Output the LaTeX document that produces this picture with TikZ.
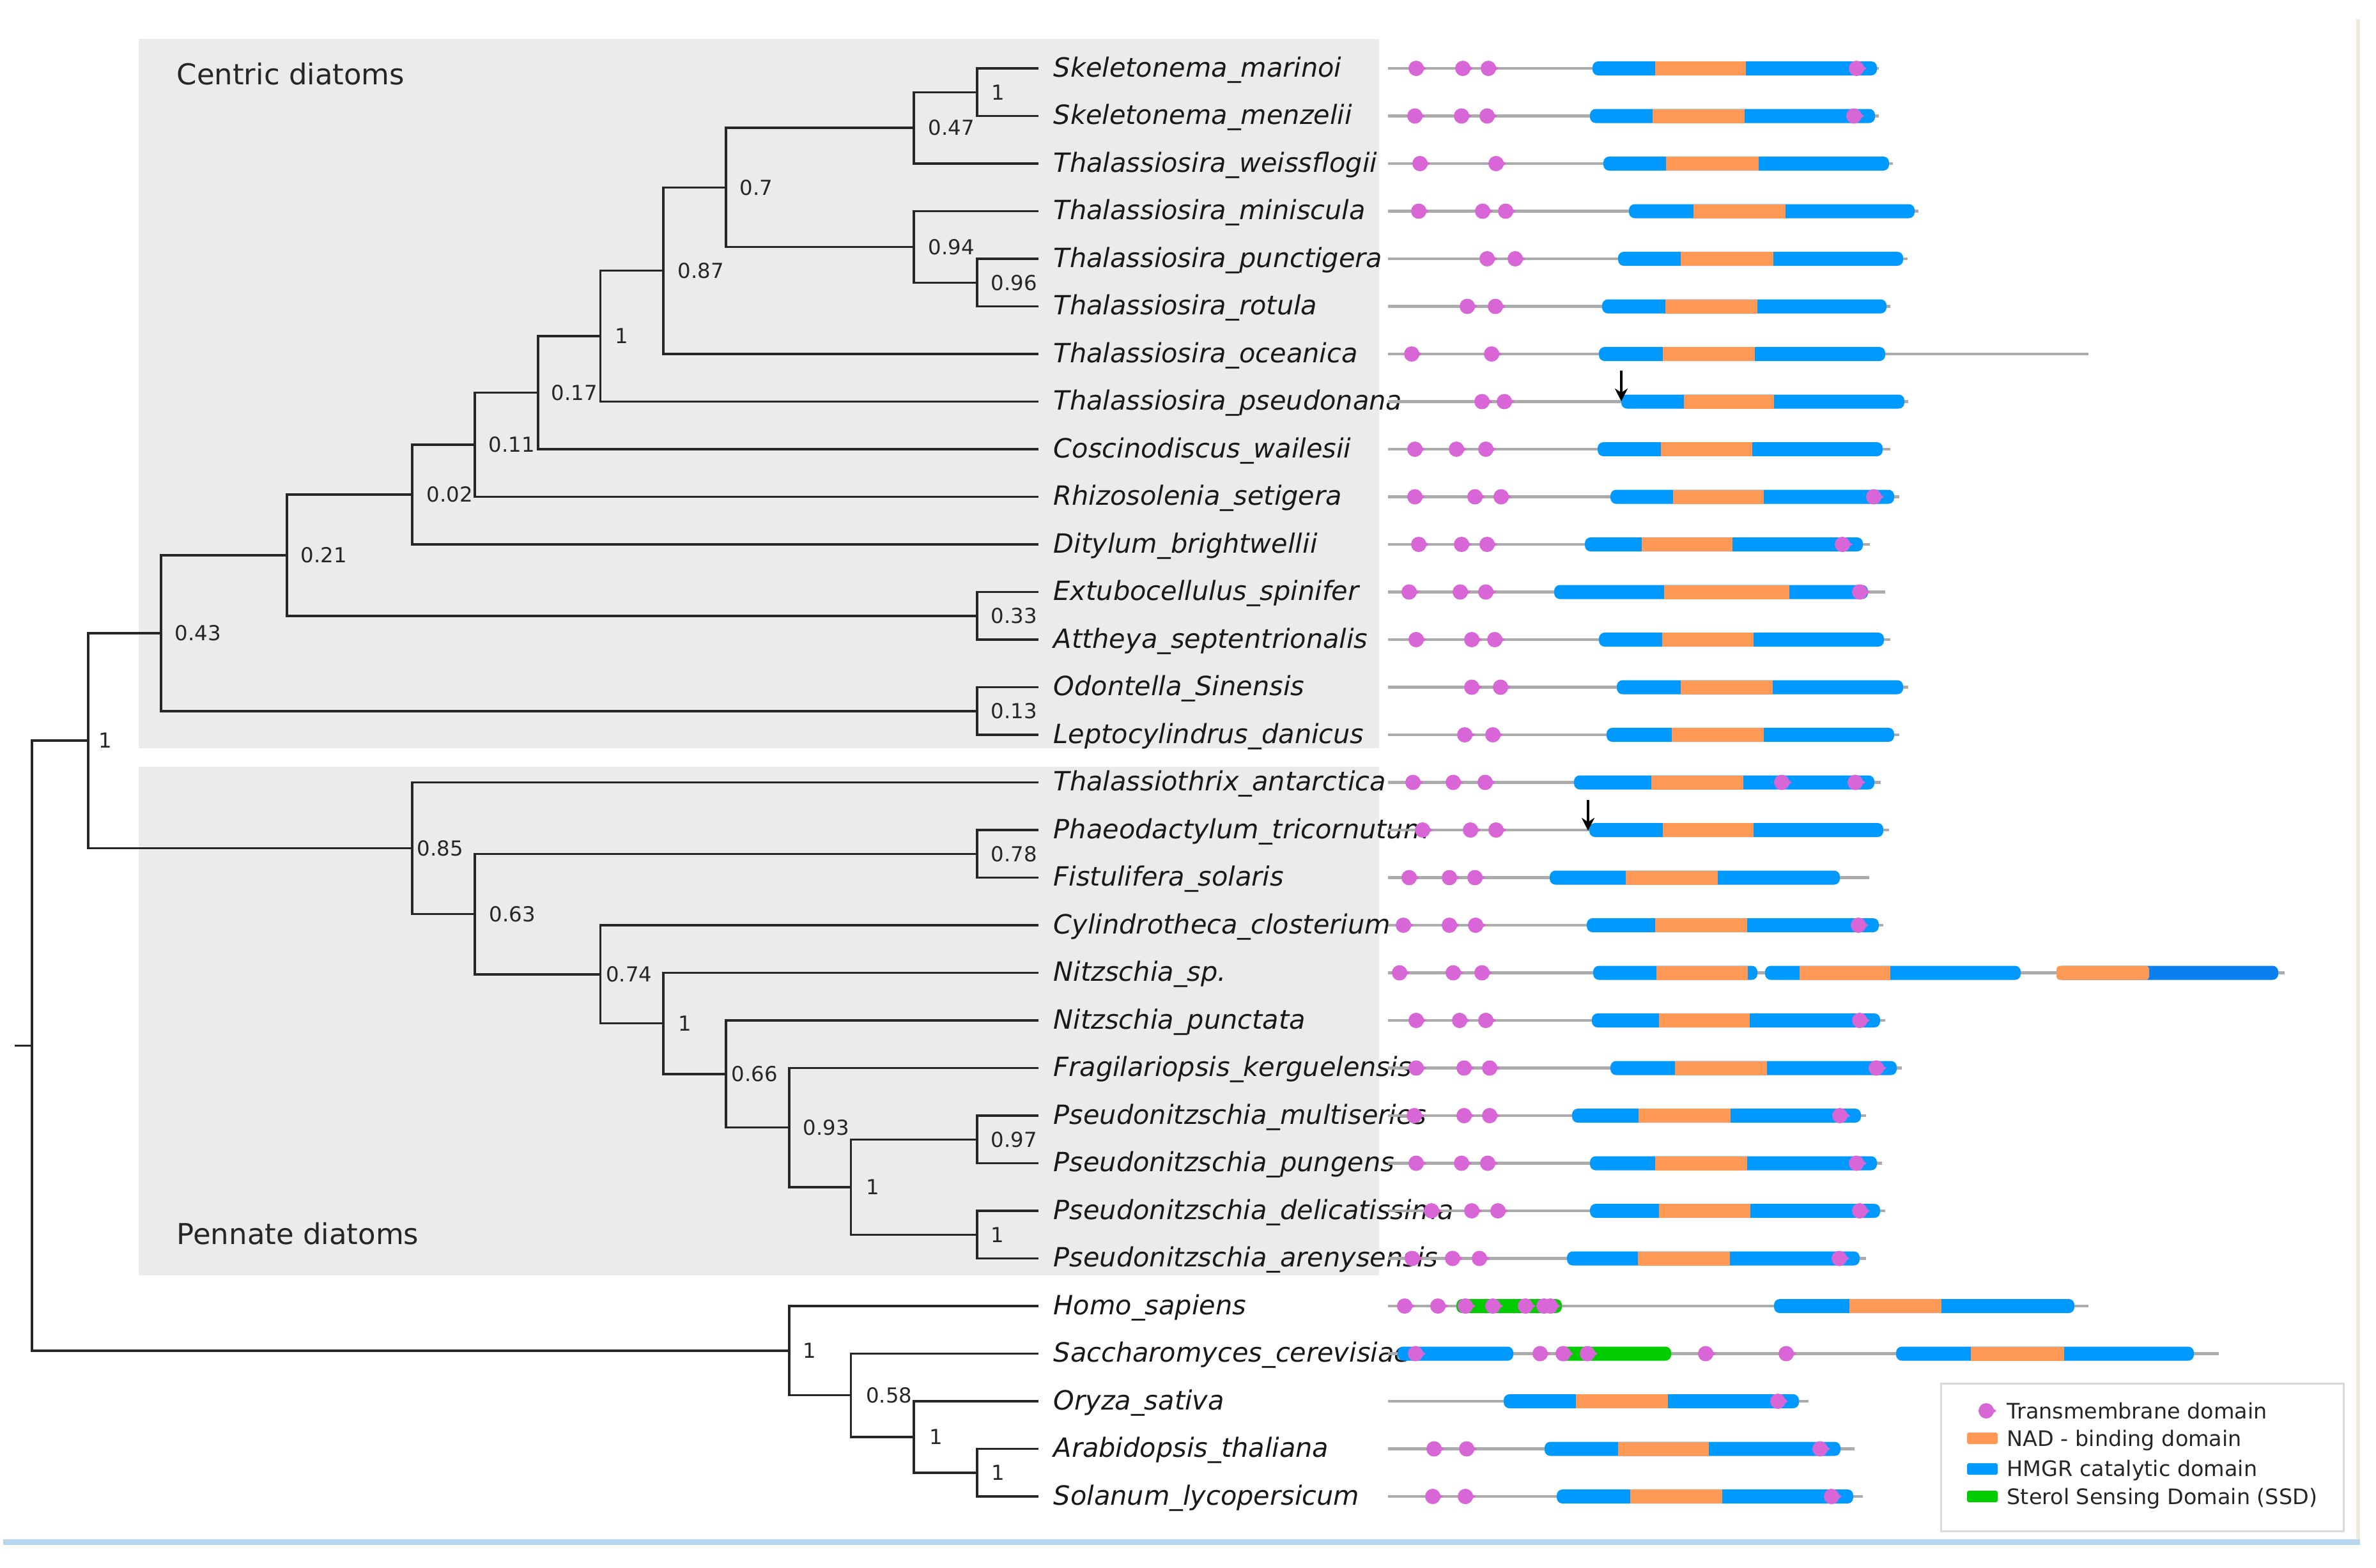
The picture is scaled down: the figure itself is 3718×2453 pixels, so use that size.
\documentclass[tikz,border=0pt]{standalone}
\usepackage{fontspec}
\setmainfont{DejaVu Sans}
\usepackage{tikz}
\usetikzlibrary{arrows.meta,positioning}

\definecolor{cladegray}{HTML}{EBEBEB}
\definecolor{hmgrblue}{HTML}{0099FF}
\definecolor{hmgrdark}{HTML}{0A80EE}
\definecolor{nadorange}{HTML}{FF9955}
\definecolor{ssdgreen}{HTML}{00CC00}
\definecolor{tmpink}{HTML}{D966D6}
\definecolor{framebeige}{HTML}{EEEAD8}
\definecolor{frameblue}{HTML}{B8D5EE}

\tikzset{
  branch/.style={line width=0.035cm, black!85},
  leaf/.style={anchor=west, inner xsep=0.23cm, inner ysep=0pt, text height=0.32cm, text depth=0.06cm,
    text=black!90, font=\fontsize{11.8}{14}\selectfont\itshape},
  supp/.style={inner sep=0pt, text=black!85, font=\fontsize{9.2}{11}\selectfont},
  cladename/.style={anchor=west, inner sep=0pt, text=black!85, font=\fontsize{12.8}{15}\selectfont},
  legtext/.style={anchor=base west, inner sep=0pt, text=black!85, font=\fontsize{9.5}{11}\selectfont},
  backbone/.style={line width=0.045cm, black!33},
  cut/.style={line width=0.035cm, -{Stealth[length=0.2cm, width=0.2cm]}}
}

% transmembrane marker
\newcommand{\tmark}[2]{\fill[tmpink] (#1-2,#2) circle[radius=0.12cm];
  \fill[tmpink] (#1-2,#2-11) -- (#1+14,#2) -- (#1-2,#2+11) -- cycle;}
\newcommand{\tmrow}[2]{\foreach \tmx in {#2}{\tmark{\tmx}{#1}}}
% protein: y, end, hmgr from/to, nad from/to
\newcommand{\prot}[6]{%
  \draw[backbone] (2172,#1) -- (#2,#1);
  \fill[hmgrblue, rounded corners=0.09cm] (#3,#1-11) rectangle (#4,#1+11);
  \fill[nadorange] (#5,#1-11) rectangle (#6,#1+11);}

\begin{document}
\begin{tikzpicture}[x=0.01cm, y=-0.01cm]
\useasboundingbox (0,0) rectangle (3718,2453);

% clade boxes
\fill[cladegray] (217,61) rectangle (2158,1171);
\fill[cladegray] (217,1200) rectangle (2158,1996);
\node[cladename] (centric) at (276,116) {Centric diatoms};
\node[cladename] (pennate) at (276,1931) {Pennate diatoms};

% leaves
\node[leaf] (skmar) at (1625,107) {Skeletonema\_marinoi};
\node[leaf] (skmen) at (1625,181.5) {Skeletonema\_menzelii};
\node[leaf] (thwei) at (1625,256) {Thalassiosira\_weissflogii};
\node[leaf] (thmin) at (1625,330.5) {Thalassiosira\_miniscula};
\node[leaf] (thpun) at (1625,405) {Thalassiosira\_punctigera};
\node[leaf] (throt) at (1625,479.5) {Thalassiosira\_rotula};
\node[leaf] (thoce) at (1625,554) {Thalassiosira\_oceanica};
\node[leaf] (thpse) at (1625,628.5) {Thalassiosira\_pseudonana};
\node[leaf] (cowai) at (1625,703) {Coscinodiscus\_wailesii};
\node[leaf] (rhset) at (1625,777.5) {Rhizosolenia\_setigera};
\node[leaf] (dibri) at (1625,852) {Ditylum\_brightwellii};
\node[leaf] (exspi) at (1625,926.5) {Extubocellulus\_spinifer};
\node[leaf] (atsep) at (1625,1001) {Attheya\_septentrionalis};
\node[leaf] (odsin) at (1625,1075.5) {Odontella\_Sinensis};
\node[leaf] (ledan) at (1625,1150) {Leptocylindrus\_danicus};
\node[leaf] (thant) at (1625,1224.5) {Thalassiothrix\_antarctica};
\node[leaf] (phtri) at (1625,1299) {Phaeodactylum\_tricornutum};
\node[leaf] (fisol) at (1625,1373.5) {Fistulifera\_solaris};
\node[leaf] (cyclo) at (1625,1448) {Cylindrotheca\_closterium};
\node[leaf] (nisp) at (1625,1522.5) {Nitzschia\_sp.};
\node[leaf] (nipun) at (1625,1597) {Nitzschia\_punctata};
\node[leaf] (frker) at (1625,1671.5) {Fragilariopsis\_kerguelensis};
\node[leaf] (psmul) at (1625,1746) {Pseudonitzschia\_multiseries};
\node[leaf] (pspun) at (1625,1820.5) {Pseudonitzschia\_pungens};
\node[leaf] (psdel) at (1625,1895) {Pseudonitzschia\_delicatissima};
\node[leaf] (psare) at (1625,1969.5) {Pseudonitzschia\_arenysensis};
\node[leaf] (hosap) at (1625,2044) {Homo\_sapiens};
\node[leaf] (sacer) at (1625,2118.5) {Saccharomyces\_cerevisiae};
\node[leaf] (orsat) at (1625,2193) {Oryza\_sativa};
\node[leaf] (artha) at (1625,2267.5) {Arabidopsis\_thaliana};
\node[leaf] (solyc) at (1625,2342) {Solanum\_lycopersicum};

% inner nodes
\coordinate (stub) at (23,1636.5);
\coordinate (root) at (50,1636.5);
\coordinate (ndia) at (138,1159.15);
\coordinate (n043) at (252,990.8);
\coordinate (n021) at (449,868.9);
\coordinate (n002) at (645,774);
\coordinate (n011) at (743,696);
\coordinate (n017) at (842,614.5);
\coordinate (n1c) at (939.5,526.05);
\coordinate (n087) at (1038,423.6);
\coordinate (n07) at (1136,293.25);
\coordinate (n047) at (1430,200.1);
\coordinate (nskel) at (1529,144.25);
\coordinate (n094) at (1430,386.4);
\coordinate (n096) at (1529,442.25);
\coordinate (n033) at (1529,963.75);
\coordinate (n013) at (1529,1112.75);
\coordinate (n085) at (645,1327.5);
\coordinate (n063) at (743,1430.5);
\coordinate (n078) at (1529,1336.25);
\coordinate (n074) at (939.5,1524.8);
\coordinate (n1n) at (1038,1601.65);
\coordinate (n066) at (1136,1680.8);
\coordinate (n093) at (1235,1764.6);
\coordinate (n1p) at (1331.5,1857.75);
\coordinate (n097) at (1529,1783.25);
\coordinate (n1q) at (1529,1932.25);
\coordinate (n1h) at (1235,2113.85);
\coordinate (n058) at (1331.5,2183.7);
\coordinate (n1o) at (1430,2248.9);
\coordinate (n1s) at (1529,2304.75);

% branches
\draw[branch] (stub) -- (root);
\draw[branch] (ndia) -| (root) |- (n1h);
\draw[branch] (n043) -| (ndia) |- (n085);
\draw[branch] (n021) -| (n043) |- (n013);
\draw[branch] (n002) -| (n021) |- (n033);
\draw[branch] (n011) -| (n002) |- (dibri.west);
\draw[branch] (n017) -| (n011) |- (rhset.west);
\draw[branch] (n1c) -| (n017) |- (cowai.west);
\draw[branch] (n087) -| (n1c) |- (thpse.west);
\draw[branch] (n07) -| (n087) |- (thoce.west);
\draw[branch] (n047) -| (n07) |- (n094);
\draw[branch] (nskel) -| (n047) |- (thwei.west);
\draw[branch] (skmar.west) -| (nskel) |- (skmen.west);
\draw[branch] (thmin.west) -| (n094) |- (n096);
\draw[branch] (thpun.west) -| (n096) |- (throt.west);
\draw[branch] (exspi.west) -| (n033) |- (atsep.west);
\draw[branch] (odsin.west) -| (n013) |- (ledan.west);
\draw[branch] (thant.west) -| (n085) |- (n063);
\draw[branch] (n078) -| (n063) |- (n074);
\draw[branch] (phtri.west) -| (n078) |- (fisol.west);
\draw[branch] (cyclo.west) -| (n074) |- (n1n);
\draw[branch] (nisp.west) -| (n1n) |- (n066);
\draw[branch] (nipun.west) -| (n066) |- (n093);
\draw[branch] (frker.west) -| (n093) |- (n1p);
\draw[branch] (n097) -| (n1p) |- (n1q);
\draw[branch] (psmul.west) -| (n097) |- (pspun.west);
\draw[branch] (psdel.west) -| (n1q) |- (psare.west);
\draw[branch] (hosap.west) -| (n1h) |- (n058);
\draw[branch] (sacer.west) -| (n058) |- (n1o);
\draw[branch] (orsat.west) -| (n1o) |- (n1s);
\draw[branch] (artha.west) -| (n1s) |- (solyc.west);

% support values
\node[supp, right=0.16cm of ndia] (sdia) {1};
\node[supp, right=0.21cm of n043] (s043) {0.43};
\node[supp, right=0.21cm of n021] (s021) {0.21};
\node[supp, right=0.22cm of n002] (s002) {0.02};
\node[supp, right=0.21cm of n011] (s011) {0.11};
\node[supp, right=0.20cm of n017] (s017) {0.17};
\node[supp, right=0.22cm of n1c] (s1c) {1};
\node[supp, right=0.22cm of n087] (s087) {0.87};
\node[supp, right=0.21cm of n07] (s07) {0.7};
\node[supp, right=0.22cm of n047] (s047) {0.47};
\node[supp, right=0.22cm of nskel] (sskel) {1};
\node[supp, right=0.22cm of n094] (s094) {0.94};
\node[supp, right=0.21cm of n096] (s096) {0.96};
\node[supp, right=0.21cm of n033] (s033) {0.33};
\node[supp, right=0.21cm of n013] (s013) {0.13};
\node[supp, right=0.07cm of n085] (s085) {0.85};
\node[supp, right=0.22cm of n063] (s063) {0.63};
\node[supp, right=0.21cm of n078] (s078) {0.78};
\node[supp, right=0.08cm of n074] (s074) {0.74};
\node[supp, right=0.23cm of n1n] (s1n) {1};
\node[supp, right=0.08cm of n066] (s066) {0.66};
\node[supp, right=0.21cm of n093] (s093) {0.93};
\node[supp, right=0.23cm of n1p] (s1p) {1};
\node[supp, right=0.21cm of n097] (s097) {0.97};
\node[supp, right=0.21cm of n1q] (s1q) {1};
\node[supp, right=0.21cm of n1h] (s1h) {1};
\node[supp, right=0.23cm of n058] (s058) {0.58};
\node[supp, right=0.24cm of n1o] (s1o) {1};
\node[supp, right=0.22cm of n1s] (s1s) {1};

% domain architectures
\prot{107}{2940}{2492}{2937}{2590}{2732}
\prot{181.5}{2940}{2488}{2934}{2586}{2730}
\prot{256}{2962}{2509}{2956}{2607}{2752}
\prot{330.5}{3002}{2549}{2996}{2650}{2794}
\prot{405}{2985}{2532}{2978}{2630}{2775}
\prot{479.5}{2958}{2507}{2952}{2606}{2750}
\prot{554}{3268}{2502}{2950}{2602}{2746}
\prot{628.5}{2986}{2537}{2980}{2635}{2776}
\prot{703}{2958}{2500}{2946}{2599}{2742}
\prot{777.5}{2972}{2520}{2964}{2618}{2760}
\prot{852}{2926}{2480}{2915}{2569}{2711}
\prot{926.5}{2950}{2432}{2923}{2604}{2800}
\prot{1001}{2958}{2502}{2948}{2601}{2744}
\prot{1075.5}{2986}{2530}{2978}{2630}{2774}
\prot{1150}{2972}{2514}{2964}{2616}{2760}
\prot{1224.5}{2943}{2463}{2933}{2584}{2728}
\prot{1299}{2956}{2487}{2947}{2602}{2744}
\prot{1373.5}{2925}{2425}{2879}{2544}{2688}
\prot{1448}{2947}{2483}{2940}{2590}{2734}
\prot{1522.5}{3575}{2493}{2750}{2592}{2735}
\prot{1597}{2950}{2491}{2942}{2596}{2738}
\prot{1671.5}{2976}{2520}{2968}{2621}{2765}
\prot{1746}{2920}{2460}{2912}{2564}{2708}
\prot{1820.5}{2945}{2488}{2937}{2590}{2734}
\prot{1895}{2950}{2488}{2942}{2596}{2739}
\prot{1969.5}{2920}{2452}{2910}{2563}{2707}
\prot{2044}{3268}{2776}{3246}{2894}{3038}
\prot{2118.5}{3472}{2967}{3433}{3084}{3230}
\prot{2193}{2830}{2353}{2815}{2466}{2610}
\prot{2267.5}{2902}{2417}{2880}{2532}{2674}
\prot{2342}{2915}{2436}{2900}{2551}{2695}

% Nitzschia_sp. repeats
\fill[hmgrblue, rounded corners=0.09cm] (2762,1511.5) rectangle (3162,1533.5);
\fill[nadorange] (2816,1511.5) rectangle (2958,1533.5);
\fill[hmgrdark, rounded corners=0.09cm] (3218,1511.5) rectangle (3565,1533.5);
\fill[nadorange, rounded corners=0.05cm] (3218,1511.5) rectangle (3363,1533.5);
% SSD and N-terminal HMGR
\fill[ssdgreen, rounded corners=0.09cm] (2279,2033) rectangle (2444,2055);
\fill[hmgrblue, rounded corners=0.09cm] (2187,2107.5) rectangle (2368,2129.5);
\fill[ssdgreen, rounded corners=0.09cm] (2436,2107.5) rectangle (2615,2129.5);

% transmembrane domains
\tmrow{107}{2218,2291,2331,2907}
\tmrow{181.5}{2216,2289,2329,2903}
\tmrow{256}{2224,2343}
\tmrow{330.5}{2222,2322,2358}
\tmrow{405}{2329,2373}
\tmrow{479.5}{2298,2342}
\tmrow{554}{2211,2336}
\tmrow{628.5}{2321,2356}
\tmrow{703}{2216,2281,2327}
\tmrow{777.5}{2216,2310,2351,2934}
\tmrow{852}{2222,2289,2329,2885}
\tmrow{926.5}{2207,2287,2327,2912}
\tmrow{1001}{2218,2305,2341}
\tmrow{1075.5}{2305,2350}
\tmrow{1150}{2294,2338}
\tmrow{1224.5}{2213,2276,2326,2790,2905}
\tmrow{1299}{2228,2303,2343}
\tmrow{1373.5}{2207,2270,2310}
\tmrow{1448}{2198,2270,2311,2910}
\tmrow{1522.5}{2192,2276,2321}
\tmrow{1597}{2218,2286,2327,2912}
\tmrow{1671.5}{2218,2293,2333,2938}
\tmrow{1746}{2215,2293,2333,2881}
\tmrow{1820.5}{2218,2289,2330,2907}
\tmrow{1895}{2242,2305,2346,2912}
\tmrow{1969.5}{2212,2275,2317,2880}
\tmrow{2044}{2200,2252,2295,2338,2389,2418,2428}
\tmrow{2118.5}{2217,2412,2448,2486,2671,2797}
\tmrow{2193}{2784}
\tmrow{2267.5}{2246,2297,2850}
\tmrow{2342}{2244,2295,2868}

% alternative start sites
\coordinate (cut1) at (2537,580);
\coordinate (cut2) at (2485,1252);
\draw[cut] (cut1) -- ++(0,48);
\draw[cut] (cut2) -- ++(0,48);

% legend
\draw[black!15, line width=0.03cm, fill=white] (3037,2165) rectangle (3667,2396);
\tmark{3110}{2208}
\node[legtext] (lgtm) at (3140,2220) {Transmembrane domain};
\fill[nadorange, rounded corners=0.03cm] (3078,2242) rectangle (3126,2260);
\node[legtext] (lgnad) at (3140,2263) {NAD - binding domain};
\fill[hmgrblue, rounded corners=0.03cm] (3078,2290) rectangle (3126,2308);
\node[legtext] (lghmgr) at (3140,2310) {HMGR catalytic domain};
\fill[ssdgreen, rounded corners=0.03cm] (3078,2333) rectangle (3126,2351);
\node[legtext] (lgssd) at (3140,2354) {Sterol Sensing Domain (SSD)};

% frame
\fill[framebeige] (3687,30) rectangle (3693,2410);
\fill[frameblue] (5,2409) rectangle (3693,2418);
\end{tikzpicture}
\end{document}
